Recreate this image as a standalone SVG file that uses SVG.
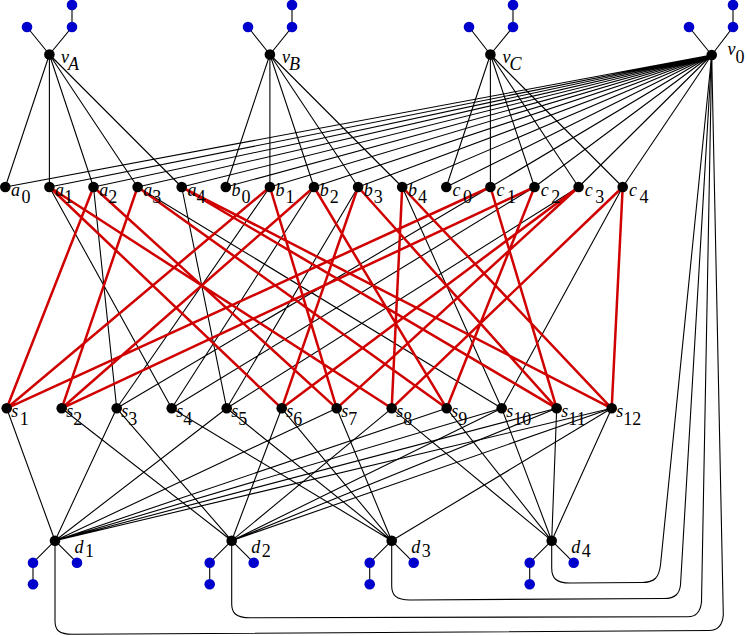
<svg xmlns="http://www.w3.org/2000/svg" width="747" height="636" viewBox="0 0 747 636">
<style>
.e{stroke:#000;stroke-width:1.1;fill:none}
.r{stroke:#d00000;stroke-width:2.5;fill:none}
.n{fill:#000}
.p{fill:#0000cc}
.i{font-style:italic}
</style>
<rect width="747" height="636" fill="#fff"/>
<g id="connectors">
<path class="e" d="M49.4,54.5L27,27M49.4,54.5L72,27L72,5M269.9,54.5L248,27M269.9,54.5L292,27L292,5M490.4,54.5L469,27M490.4,54.5L513,27L513,5M711.7,55L689,27M711.7,55L733,27L733,5"/>
<path class="e" d="M55,540.7L33,562.7L33,584.3M55,540.7L77,562.7M231.7,540.7L209.7,562.7L209.7,584.3M231.7,540.7L253.7,562.7M391.7,540.7L369.7,562.7L369.7,584.3M391.7,540.7L413.7,562.7M551.7,540.7L529.7,562.7L529.7,584.3M551.7,540.7L573.7,562.7"/>
<path class="e" d="M49.4,54.5L5.3,187M49.4,54.5L49.4,187M49.4,54.5L93.5,187M49.4,54.5L137.6,187M49.4,54.5L181.7,187"/>
<path class="e" d="M269.9,54.5L225.8,187M269.9,54.5L269.9,187M269.9,54.5L314,187M269.9,54.5L358.1,187M269.9,54.5L402.2,187"/>
<path class="e" d="M490.4,54.5L446.3,187M490.4,54.5L490.4,187M490.4,54.5L534.5,187M490.4,54.5L578.6,187M490.4,54.5L622.7,187"/>
<path class="e" d="M711.7,55L5.3,187M711.7,55L49.4,187M711.7,55L93.5,187M711.7,55L137.6,187M711.7,55L181.7,187M711.7,55L225.8,187M711.7,55L269.9,187M711.7,55L314,187M711.7,55L358.1,187M711.7,55L402.2,187M711.7,55L446.3,187M711.7,55L490.4,187M711.7,55L534.5,187M711.7,55L578.6,187M711.7,55L622.7,187"/>
<path class="e" d="M93.5,187L116.7,408.3M269.9,187L116.7,408.3M490.4,187L116.7,408.3M49.4,187L171.7,408.3M314,187L171.7,408.3M534.5,187L171.7,408.3M181.7,187L226.7,408.3M358.1,187L226.7,408.3M578.6,187L226.7,408.3M137.6,187L501.7,408.3M402.2,187L501.7,408.3M622.7,187L501.7,408.3"/>
<path class="r" d="M93.5,187L6.7,408.3M269.9,187L6.7,408.3M490.4,187L6.7,408.3M137.6,187L61.7,408.3M314,187L61.7,408.3M534.5,187L61.7,408.3M49.4,187L281.7,408.3M358.1,187L281.7,408.3M578.6,187L281.7,408.3M93.5,187L336.7,408.3M269.9,187L336.7,408.3M578.6,187L336.7,408.3M49.4,187L391.7,408.3M402.2,187L391.7,408.3M622.7,187L391.7,408.3M137.6,187L446.7,408.3M314,187L446.7,408.3M534.5,187L446.7,408.3M181.7,187L556.7,408.3M358.1,187L556.7,408.3M490.4,187L556.7,408.3M181.7,187L611.7,408.3M402.2,187L611.7,408.3M622.7,187L611.7,408.3"/>
<path class="e" d="M6.7,408.3L55,540.7M116.7,408.3L55,540.7M226.7,408.3L55,540.7M336.7,408.3L55,540.7M446.7,408.3L55,540.7M501.7,408.3L55,540.7M556.7,408.3L55,540.7M611.7,408.3L55,540.7"/>
<path class="e" d="M61.7,408.3L231.7,540.7M116.7,408.3L231.7,540.7M281.7,408.3L231.7,540.7M391.7,408.3L231.7,540.7M501.7,408.3L231.7,540.7M556.7,408.3L231.7,540.7M611.7,408.3L231.7,540.7"/>
<path class="e" d="M171.7,408.3L391.7,540.7M226.7,408.3L391.7,540.7M281.7,408.3L391.7,540.7M336.7,408.3L391.7,540.7M611.7,408.3L391.7,540.7"/>
<path class="e" d="M391.7,408.3L551.7,540.7M446.7,408.3L551.7,540.7M501.7,408.3L551.7,540.7M556.7,408.3L551.7,540.7M611.7,408.3L551.7,540.7"/>
<path class="e" d="M551.7,540.7L551.7,568C551.7,578 556,583 570,583L642,582.5C655,582.5 659,577 660.5,565L711.7,55"/>
<path class="e" d="M391.7,540.7L391.7,586C391.7,595 396,600 410,600L664,598.5C676,598.5 679.5,593 680.5,585L711.7,55"/>
<path class="e" d="M231.7,540.7L231.7,604C231.7,613 236,617.7 250,617.7L688,616.8C697,616.8 700.5,611 701.5,602L711.7,55"/>
<path class="e" d="M55,540.7L55,621C55,630 59,634.3 72,634.3L709,630.5C718,630.5 722.5,625 723.3,615L711.7,55"/>
</g>
<g font-family="Liberation Serif, Times New Roman, serif" font-size="18" fill="#000">
<g id="vA"><circle class="n" cx="49.4" cy="54.5" r="5.3"/><text x="61" y="62.5"><tspan class="i">v</tspan><tspan class="i" dx="-1" dy="7">A</tspan></text></g>
<g id="vB"><circle class="n" cx="269.9" cy="54.5" r="5.3"/><text x="282" y="62.5"><tspan class="i">v</tspan><tspan class="i" dx="-1" dy="7">B</tspan></text></g>
<g id="vC"><circle class="n" cx="490.4" cy="54.5" r="5.3"/><text x="502.5" y="62.5"><tspan class="i">v</tspan><tspan class="i" dx="-1" dy="7">C</tspan></text></g>
<g id="v0"><circle class="n" cx="711.7" cy="55" r="5.3"/><text x="727.5" y="55"><tspan class="i">v</tspan><tspan dy="8">0</tspan></text></g>
<g id="vA-p"><circle class="p" cx="27" cy="27" r="5.3"/><circle class="p" cx="72" cy="27" r="5.3"/><circle class="p" cx="72" cy="5" r="5.3"/></g>
<g id="vB-p"><circle class="p" cx="248" cy="27" r="5.3"/><circle class="p" cx="292" cy="27" r="5.3"/><circle class="p" cx="292" cy="5" r="5.3"/></g>
<g id="vC-p"><circle class="p" cx="469" cy="27" r="5.3"/><circle class="p" cx="513" cy="27" r="5.3"/><circle class="p" cx="513" cy="5" r="5.3"/></g>
<g id="v0-p"><circle class="p" cx="689" cy="27" r="5.3"/><circle class="p" cx="733" cy="27" r="5.3"/><circle class="p" cx="733" cy="5" r="5.3"/></g>
<g id="a0"><circle class="n" cx="5.3" cy="187" r="5.3"/><text x="11" y="196"><tspan class="i">a</tspan><tspan dx="1.5" dy="7">0</tspan></text></g>
<g id="a1"><circle class="n" cx="49.4" cy="187" r="5.3"/><text x="55.1" y="196"><tspan class="i">a</tspan><tspan dy="7">1</tspan></text></g>
<g id="a2"><circle class="n" cx="93.5" cy="187" r="5.3"/><text x="99.2" y="196"><tspan class="i">a</tspan><tspan dy="7">2</tspan></text></g>
<g id="a3"><circle class="n" cx="137.6" cy="187" r="5.3"/><text x="143.3" y="196"><tspan class="i">a</tspan><tspan dy="7">3</tspan></text></g>
<g id="a4"><circle class="n" cx="181.7" cy="187" r="5.3"/><text x="187.4" y="196"><tspan class="i">a</tspan><tspan dy="7">4</tspan></text></g>
<g id="b0"><circle class="n" cx="225.8" cy="187" r="5.3"/><text x="231.5" y="196"><tspan class="i">b</tspan><tspan dx="1" dy="7">0</tspan></text></g>
<g id="b1"><circle class="n" cx="269.9" cy="187" r="5.3"/><text x="275.6" y="196"><tspan class="i">b</tspan><tspan dx="1" dy="7">1</tspan></text></g>
<g id="b2"><circle class="n" cx="314" cy="187" r="5.3"/><text x="319.7" y="196"><tspan class="i">b</tspan><tspan dx="1" dy="7">2</tspan></text></g>
<g id="b3"><circle class="n" cx="358.1" cy="187" r="5.3"/><text x="363.8" y="196"><tspan class="i">b</tspan><tspan dx="1" dy="7">3</tspan></text></g>
<g id="b4"><circle class="n" cx="402.2" cy="187" r="5.3"/><text x="407.9" y="196"><tspan class="i">b</tspan><tspan dx="1" dy="7">4</tspan></text></g>
<g id="c0"><circle class="n" cx="446.3" cy="187" r="5.3"/><text x="452.5" y="196"><tspan class="i">c</tspan><tspan dx="2.5" dy="7">0</tspan></text></g>
<g id="c1"><circle class="n" cx="490.4" cy="187" r="5.3"/><text x="496.6" y="196"><tspan class="i">c</tspan><tspan dx="2.5" dy="7">1</tspan></text></g>
<g id="c2"><circle class="n" cx="534.5" cy="187" r="5.3"/><text x="540.7" y="196"><tspan class="i">c</tspan><tspan dx="2.5" dy="7">2</tspan></text></g>
<g id="c3"><circle class="n" cx="578.6" cy="187" r="5.3"/><text x="584.8" y="196"><tspan class="i">c</tspan><tspan dx="2.5" dy="7">3</tspan></text></g>
<g id="c4"><circle class="n" cx="622.7" cy="187" r="5.3"/><text x="628.9" y="196"><tspan class="i">c</tspan><tspan dx="2.5" dy="7">4</tspan></text></g>
<g id="s1"><circle class="n" cx="6.7" cy="408.3" r="5.3"/><text x="11.3" y="416.7"><tspan class="i">s</tspan><tspan dx="1.5" dy="8">1</tspan></text></g>
<g id="s2"><circle class="n" cx="61.7" cy="408.3" r="5.3"/><text x="66.3" y="416.7"><tspan class="i">s</tspan><tspan dy="8">2</tspan></text></g>
<g id="s3"><circle class="n" cx="116.7" cy="408.3" r="5.3"/><text x="121.3" y="416.7"><tspan class="i">s</tspan><tspan dy="8">3</tspan></text></g>
<g id="s4"><circle class="n" cx="171.7" cy="408.3" r="5.3"/><text x="176.3" y="416.7"><tspan class="i">s</tspan><tspan dy="8">4</tspan></text></g>
<g id="s5"><circle class="n" cx="226.7" cy="408.3" r="5.3"/><text x="231.3" y="416.7"><tspan class="i">s</tspan><tspan dy="8">5</tspan></text></g>
<g id="s6"><circle class="n" cx="281.7" cy="408.3" r="5.3"/><text x="286.3" y="416.7"><tspan class="i">s</tspan><tspan dy="8">6</tspan></text></g>
<g id="s7"><circle class="n" cx="336.7" cy="408.3" r="5.3"/><text x="341.3" y="416.7"><tspan class="i">s</tspan><tspan dy="8">7</tspan></text></g>
<g id="s8"><circle class="n" cx="391.7" cy="408.3" r="5.3"/><text x="396.3" y="416.7"><tspan class="i">s</tspan><tspan dy="8">8</tspan></text></g>
<g id="s9"><circle class="n" cx="446.7" cy="408.3" r="5.3"/><text x="451.3" y="416.7"><tspan class="i">s</tspan><tspan dy="8">9</tspan></text></g>
<g id="s10"><circle class="n" cx="501.7" cy="408.3" r="5.3"/><text x="506.3" y="416.7"><tspan class="i">s</tspan><tspan dy="8">10</tspan></text></g>
<g id="s11"><circle class="n" cx="556.7" cy="408.3" r="5.3"/><text x="561.3" y="416.7"><tspan class="i">s</tspan><tspan dy="8">11</tspan></text></g>
<g id="s12"><circle class="n" cx="611.7" cy="408.3" r="5.3"/><text x="616.3" y="416.7"><tspan class="i">s</tspan><tspan dy="8">12</tspan></text></g>
<g id="d1"><circle class="n" cx="55" cy="540.7" r="5.3"/><text x="74.5" y="553"><tspan class="i">d</tspan><tspan dx="1.5" dy="3.5">1</tspan></text></g>
<g id="d2"><circle class="n" cx="231.7" cy="540.7" r="5.3"/><text x="251.2" y="553"><tspan class="i">d</tspan><tspan dx="1.5" dy="3.5">2</tspan></text></g>
<g id="d3"><circle class="n" cx="391.7" cy="540.7" r="5.3"/><text x="411.2" y="553"><tspan class="i">d</tspan><tspan dx="1.5" dy="3.5">3</tspan></text></g>
<g id="d4"><circle class="n" cx="551.7" cy="540.7" r="5.3"/><text x="571.2" y="553"><tspan class="i">d</tspan><tspan dx="1.5" dy="3.5">4</tspan></text></g>
<g id="d1-p"><circle class="p" cx="33" cy="562.7" r="5.3"/><circle class="p" cx="33" cy="584.3" r="5.3"/><circle class="p" cx="77" cy="562.7" r="5.3"/></g>
<g id="d2-p"><circle class="p" cx="209.7" cy="562.7" r="5.3"/><circle class="p" cx="209.7" cy="584.3" r="5.3"/><circle class="p" cx="253.7" cy="562.7" r="5.3"/></g>
<g id="d3-p"><circle class="p" cx="369.7" cy="562.7" r="5.3"/><circle class="p" cx="369.7" cy="584.3" r="5.3"/><circle class="p" cx="413.7" cy="562.7" r="5.3"/></g>
<g id="d4-p"><circle class="p" cx="529.7" cy="562.7" r="5.3"/><circle class="p" cx="529.7" cy="584.3" r="5.3"/><circle class="p" cx="573.7" cy="562.7" r="5.3"/></g>
</g>
</svg>
